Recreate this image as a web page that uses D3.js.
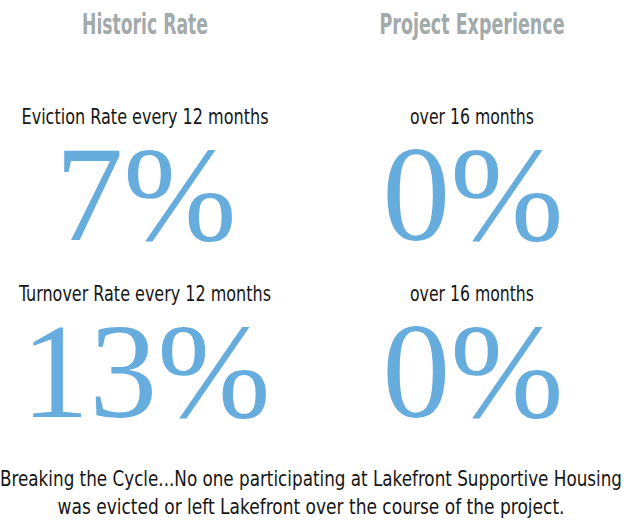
<!DOCTYPE html>
<html>
<head>
<meta charset="utf-8">
<script src="https://cdn.jsdelivr.net/npm/d3@7"></script>
<style>
  body { margin: 0; background: #fff; }
  svg { display: block; }
</style>
</head>
<body>
<div id="chart"></div>
<script>
// data
var columns = ['Historic Rate', 'Project Experience'];
var metrics = ['Eviction Rate', 'Turnover Rate'];
var historicValues = [7, 13];
var projectValues = [0, 0];
var periods = ['every 12 months', 'over 16 months'];
var footnote = [
  'Breaking the Cycle...No one participating at Lakefront Supportive Housing',
  'was evicted or left Lakefront over the course of the project.'
];

var width = 635, height = 529;
var condensed = '"Liberation Sans Narrow", "DejaVu Sans Condensed", "Arial Narrow", "Liberation Sans", sans-serif';
var serif = '"Liberation Serif", "DejaVu Serif", serif';
var blue = '#66acdd';

var svg = d3.select('#chart')
  .append('svg')
  .attr('width', width)
  .attr('height', height);

var x = d3.scalePoint()
  .domain(columns)
  .range([145, 472]);

var y = d3.scalePoint()
  .domain(metrics)
  .range([124, 301]);

// column headers
var headerLen = { 'Historic Rate': 126, 'Project Experience': 185 };
svg.selectAll('.header')
  .data(columns)
  .enter()
  .append('text')
  .attr('class', 'header')
  .attr('x', function(d){ return x(d) - headerLen[d] / 2; })
  .attr('y', 34)
  .attr('textLength', function(d){ return headerLen[d]; })
  .attr('lengthAdjust', 'spacingAndGlyphs')
  .style('font-family', condensed)
  .style('font-weight', 'bold')
  .style('font-size', '28px')
  .style('fill', '#a3aaab')
  .text(function(d){ return d; });

// cells: one per metric x column
var cells = [];
metrics.forEach(function(m, i){
  cells.push({ col: columns[0], metric: m, label: m + ' ' + periods[0], value: historicValues[i],
    len: i == 0 ? 247 : 252 });
  cells.push({ col: columns[1], metric: m, label: periods[1], value: projectValues[i],
    len: 124 });
});

svg.selectAll('.cell-label')
  .data(cells)
  .enter()
  .append('text')
  .attr('class', 'cell-label')
  .attr('x', function(d){ return x(d.col) - d.len / 2; })
  .attr('y', function(d){ return y(d.metric); })
  .attr('textLength', function(d){ return d.len; })
  .attr('lengthAdjust', 'spacingAndGlyphs')
  .style('font-family', condensed)
  .style('font-size', '21px')
  .style('fill', '#161616')
  .text(function(d){ return d.label; });

svg.selectAll('.cell-value')
  .data(cells)
  .enter()
  .append('text')
  .attr('class', 'cell-value')
  .attr('x', function(d){ return x(d.col) + 1; })
  .attr('y', function(d){ return y(d.metric) + 116; })
  .attr('text-anchor', 'middle')
  .style('font-family', serif)
  .style('font-size', '136px')
  .style('fill', blue)
  .text(function(d){ return d.value + '%'; });

// footnote
var footLen = [622, 507];
svg.selectAll('.foot')
  .data(footnote)
  .enter()
  .append('text')
  .attr('class', 'foot')
  .attr('x', function(d, i){ return 311 - footLen[i] / 2; })
  .attr('y', function(d, i){ return 486 + i * 28; })
  .attr('textLength', function(d, i){ return footLen[i]; })
  .attr('lengthAdjust', 'spacingAndGlyphs')
  .style('font-family', condensed)
  .style('font-size', '21px')
  .style('fill', '#161616')
  .text(function(d){ return d; });
</script>
</body>
</html>
